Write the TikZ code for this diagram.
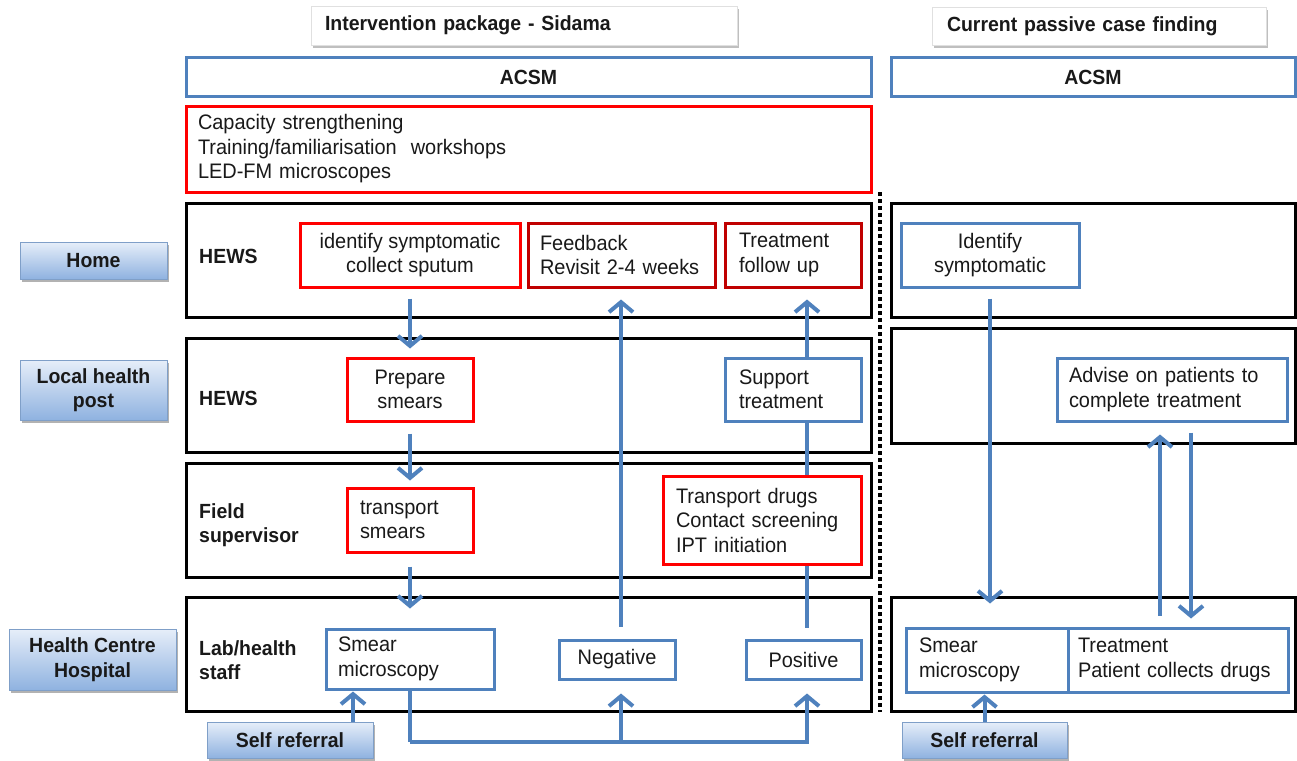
\documentclass[tikz,border=0pt]{standalone}
\usepackage{fontspec}
\setmainfont{Liberation Sans}[FakeStretch=0.95]
\usetikzlibrary{arrows.meta,shadows}
\definecolor{ofblue}{HTML}{4F81BD}
\definecolor{arrblue}{HTML}{4F81BD}
\definecolor{ofred}{HTML}{FF0000}
\definecolor{ofdred}{HTML}{C00000}
\definecolor{lbtop}{HTML}{E6EEF9}
\definecolor{lbbot}{HTML}{8FB2E0}
\definecolor{lbdraw}{HTML}{7F9FC8}
\begin{document}
\begin{tikzpicture}[x=1pt,y=-1pt,
 txt/.style={font=\fontsize{21}{24.5}\selectfont, text=black!90},
 bld/.style={font=\fontsize{20.5}{24.5}\selectfont\bfseries, text=black!90},
 sz/.style 2 args={minimum width=#1, minimum height=#2},
 rowbox/.style={draw=black, line width=3pt, minimum width=685, minimum height=114, inner sep=0pt},
 bluebox/.style={draw=ofblue, line width=3pt, fill=white, inner sep=0pt, txt},
 redbox/.style={draw=ofred, line width=3pt, fill=white, inner sep=0pt, txt},
 dredbox/.style={draw=ofdred, line width=3pt, fill=white, inner sep=0pt, txt},
 lbl/.style={draw=lbdraw, line width=1pt, top color=lbtop, bottom color=lbbot, inner sep=0pt, align=center, bld,
   drop shadow={shadow xshift=2pt, shadow yshift=-3pt, fill=black, opacity=0.3}},
 hdr/.style={draw=black!12, line width=0.8pt, fill=white, inner sep=0pt, bld,
   drop shadow={shadow xshift=2pt, shadow yshift=-3pt, fill=black, opacity=0.25}},
 rowlbl/.style={bld, inner sep=0pt, anchor=west, align=left},
 arr/.style={draw=arrblue, line width=4pt, -{Straight Barb[length=10pt,width=24pt]}},
 conn/.style={draw=arrblue, line width=4pt},
 sep/.style={line width=4.5pt, dash pattern=on 4pt off 3pt},
]
\useasboundingbox (0,0) rectangle (1297,760);

% headers
\node[hdr, sz={426}{39}, text width=398, align=left] (hdrL) at (524,25.5) {Intervention package - Sidama};
\node[hdr, sz={334}{38}, text width=304, align=left] (hdrR) at (1099,26) {Current passive case finding};

% ACSM
\node[bluebox, bld, sz={685}{38}] (acsmL) at (528.5,77) {ACSM};
\node[bluebox, bld, sz={404}{38}] (acsmR) at (1093,77) {ACSM};

% capacity
\node[redbox, sz={685}{86}, text width=661, align=left] (cap) at (528.5,149)
  {Capacity strengthening\\Training/familiarisation\ \ workshops\\LED-FM microscopes};

% rows
\node[rowbox] (r1L) at (528.5,260) {};
\node[rowbox] (r2L) at (528.5,395) {};
\node[rowbox] (r3L) at (528.5,520) {};
\node[rowbox] (r4L) at (528.5,654) {};
\node[rowbox, sz={404}{114}] (r1R) at (1093,260) {};
\node[rowbox, sz={404}{115}] (r2R) at (1093,385.5) {};
\node[rowbox, sz={404}{114}] (r4R) at (1093,654) {};

% separator
\coordinate (dt) at (880,192);
\coordinate (db) at (880,712);
\draw[sep] (dt) -- (db);

% row labels
\node[rowlbl] (h1) at (199,256) {HEWS};
\node[rowlbl] (h2) at (199,398) {HEWS};
\node[rowlbl] (h3) at (199,525) {Field\\supervisor};
\node[rowlbl] (h4) at (199,660) {Lab/health\\staff};

% inner boxes
\node[redbox, sz={220}{64}, align=center] (idL) at (410,255) {identify symptomatic\\collect sputum};
\node[dredbox, sz={187}{64}, text width=163, align=left] (fb) at (621.5,255) {Feedback\\Revisit 2-4 weeks};
\node[dredbox, sz={136}{64}, text width=108, align=left] (tfu) at (793,255) {Treatment\\follow up};
\node[bluebox, sz={178}{64}, align=center] (idR) at (990,255) {Identify\\symptomatic};
\node[redbox, sz={126}{63}, align=center] (prep) at (410,389.5) {Prepare\\smears};
\node[bluebox, sz={136}{63}, text width=108, align=left] (supp) at (793,389.5) {Support\\treatment};
\node[bluebox, sz={230}{63}, text width=206, align=left] (adv) at (1172,389.5) {Advise on patients to\\complete treatment};
\node[redbox, sz={126}{64}, text width=100, align=left] (trs) at (410,520) {transport\\smears};
\node[redbox, sz={198}{88}, text width=172, align=left] (trd) at (762,520) {Transport drugs\\Contact screening\\IPT initiation};
\node[bluebox, sz={168}{60}, text width=144, align=left] (smear) at (410,659) {Smear\\microscopy};
\node[bluebox, sz={116}{39}] (neg) at (617,659.5) {Negative};
\node[bluebox, sz={115}{39}] (pos) at (803.5,659.5) {Positive};
\node[bluebox, sz={162}{64}, text width=136, align=left] (smearR) at (987,660) {Smear\\microscopy};
\node[bluebox, sz={220}{64}, text width=200, align=left] (treatR) at (1178,660) {Treatment\\Patient collects drugs};

% side labels
\node[lbl, sz={147}{37}] (home) at (93.5,260.5) {Home};
\node[lbl, sz={147}{60}] (lhp) at (93.5,390) {Local health\\post};
\node[lbl, sz={167}{61}] (hch) at (92.5,659.5) {Health Centre\\Hospital};
\node[lbl, sz={166}{36}] (selfL) at (290,740) {Self referral};
\node[lbl, sz={165}{36}] (selfR) at (984.5,740) {Self referral};

% helper coordinates
\coordinate (ax) at (807,0);
\coordinate (nx) at (621,0);
\coordinate (sx) at (353,0);
\coordinate (ux) at (1160,0);
\coordinate (dx) at (1191,0);
\coordinate (bj) at (410,742);

% connectors
\draw[arr, shorten <=10pt, shorten >=8pt] (idL.south) -- (prep.north);
\draw[arr, shorten <=11pt, shorten >=6pt] (prep.south) -- (trs.north);
\draw[arr, shorten <=13pt, shorten >=19pt] (trs.south) -- (smear.north);
\draw[conn] (smear.south) -- (bj);
\draw[arr, shorten >=13pt] (bj) -| (pos.south -| ax);
\draw[arr, shorten >=13pt] (bj -| nx) -- (neg.south -| nx);
\draw[arr, shorten <=12pt, shorten >=11pt] (neg.north -| nx) -- (fb.south -| nx);
\draw[conn, shorten <=11pt] (pos.north -| ax) -- (trd.south -| ax);
\draw[conn] (trd.north -| ax) -- (supp.south -| ax);
\draw[arr, shorten >=11pt] (supp.north -| ax) -- (tfu.south -| ax);
\draw[arr, shorten <=10pt, shorten >=23pt] (idR.south) -- (idR.south |- smearR.north);
\draw[arr, shorten <=11pt, shorten >=12pt] (treatR.north -| ux) -- (adv.south -| ux);
\draw[arr, shorten <=10pt, shorten >=8pt] (adv.south -| dx) -- (treatR.north -| dx);
\draw[arr, shorten >=1pt] (selfL.north -| sx) -- (smear.south -| sx);
\draw[arr, shorten >=1pt] (selfR.north) -- (selfR.north |- smearR.south);
\end{tikzpicture}
\end{document}
